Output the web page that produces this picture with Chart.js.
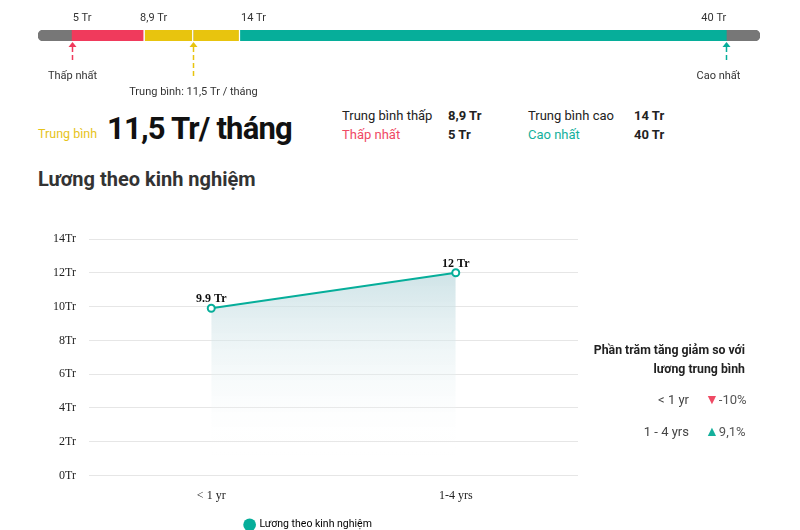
<!DOCTYPE html>
<html>
<head>
<meta charset="utf-8">
<script src="https://cdn.jsdelivr.net/npm/chart.js@4"></script>
<style>
  body { margin: 0; background: #fff; font-family: Roboto, "Noto Sans", sans-serif; color: #222; }
  #wrap { position: relative; width: 800px; height: 530px; overflow: hidden; }
  .abs { position: absolute; white-space: nowrap; }
  #rangeBox { position: absolute; left: 0; top: 0; width: 800px; height: 100px; }
  #mainBox { position: absolute; left: 0; top: 200px; width: 600px; height: 340px; }
  .lbl { font-size: 13px; }
  .val { font-size: 13px; font-weight: 700; }
</style>
</head>
<body>
<div id="wrap">
  <div id="rangeBox"><canvas id="rangeChart"></canvas></div>

  <div class="abs" style="left:38px;top:126px;font-size:12.5px;color:#e6c31a;">Trung bình</div>
  <div class="abs" style="left:107px;top:110px;font-size:31px;font-weight:700;color:#111;letter-spacing:-0.8px;">11,5 Tr/ tháng</div>

  <div class="abs lbl" style="left:342px;top:108px;">Trung bình thấp</div>
  <div class="abs val" style="left:448px;top:108px;">8,9 Tr</div>
  <div class="abs lbl" style="left:342px;top:127px;color:#ef4a64;">Thấp nhất</div>
  <div class="abs val" style="left:448px;top:127px;">5 Tr</div>
  <div class="abs lbl" style="left:528px;top:108px;">Trung bình cao</div>
  <div class="abs val" style="left:634px;top:108px;">14 Tr</div>
  <div class="abs lbl" style="left:528px;top:127px;color:#14b09c;">Cao nhất</div>
  <div class="abs val" style="left:634px;top:127px;">40 Tr</div>

  <div class="abs" style="left:38px;top:167px;font-size:20px;font-weight:700;color:#333;">Lương theo kinh nghiệm</div>

  <div id="mainBox"><canvas id="mainChart"></canvas></div>

  <div class="abs" style="right:55px;top:341px;font-size:12.3px;font-weight:700;text-align:right;line-height:19px;">Phần trăm tăng giảm so với<br>lương trung bình</div>
  <div class="abs" style="right:111px;top:392px;font-size:13px;color:#444;">&lt; 1 yr</div>
  <div class="abs" style="left:705px;top:391px;font-size:13px;color:#555;"><span style="color:#ef4a64;font-size:14px;">&#9660;</span>-10%</div>
  <div class="abs" style="right:111px;top:424px;font-size:13px;color:#444;">1 - 4 yrs</div>
  <div class="abs" style="left:705px;top:423px;font-size:13px;color:#555;"><span style="color:#14b09c;font-size:14px;">&#9650;</span>9,1%</div>
</div>

<script>
// thang luong (trieu dong / thang)
const rangeMin = 3.2;
const rangeMax = 41.8;
const lowest = 5;
const avgLow = 8.9;
const average = 11.5;
const avgHigh = 14;
const highest = 40;
const stopValues = [5, 8.9, 14, 40];
const stopLabels = ['5 Tr', '8,9 Tr', '14 Tr', '40 Tr'];

// luong theo kinh nghiem
const categories = ['< 1 yr', '1-4 yrs'];
const salaries = [9.9, 12];
const salaryLabels = ['9.9 Tr', '12 Tr'];
const yTickValues = [0, 2, 4, 6, 8, 10, 12, 14];

const RED = '#f03a5c';
const YELLOW = '#e8c40e';
const TEAL = '#06ae9a';
const GRAY = '#777777';

// ve nhan gia tri va mui ten tren thanh
const rangeMarks = {
    id: 'rangeMarks',
    afterDatasetsDraw(chart) {
        const ctx = chart.ctx;
        const x = chart.scales.x;
        const top = chart.chartArea.top, bottom = chart.chartArea.bottom;
        ctx.save();
        ctx.font = '11px Roboto, sans-serif';
        ctx.fillStyle = '#333';
        ctx.textBaseline = 'middle';
        const aligns = ['left', 'center', 'left', 'right'];
        stopValues.forEach((v, i) => {
            let px = x.getPixelForValue(v);
            if (aligns[i] === 'center') px += 9;
            ctx.textAlign = aligns[i];
            ctx.fillText(stopLabels[i], px + (aligns[i] === 'left' ? 1 : 0), top - 12);
        });
        const marks = [
            { v: lowest, color: RED, len: 22, text: 'Thấp nhất', dx: 0 },
            { v: average, color: YELLOW, len: 38, text: 'Trung bình: 11,5 Tr / tháng', dx: 0 },
            { v: highest, color: TEAL, len: 22, text: 'Cao nhất', dx: -8 }
        ];
        marks.forEach(m => {
            const px = Math.round(x.getPixelForValue(m.v)) + 0.5;
            ctx.strokeStyle = m.color;
            ctx.fillStyle = m.color;
            ctx.lineWidth = 1.5;
            ctx.beginPath();
            ctx.moveTo(px, bottom + 1);
            ctx.lineTo(px - 4, bottom + 6);
            ctx.lineTo(px + 4, bottom + 6);
            ctx.closePath();
            ctx.fill();
            ctx.setLineDash([5, 3]);
            ctx.beginPath();
            ctx.moveTo(px, bottom + 6);
            ctx.lineTo(px, bottom + m.len);
            ctx.stroke();
            ctx.setLineDash([]);
            ctx.fillStyle = '#333';
            ctx.textAlign = 'center';
            ctx.fillText(m.text, px + m.dx, bottom + m.len + 13);
        });
        ctx.restore();
    }
};

new Chart(document.getElementById('rangeChart'), {
    type: 'bar',
    data: {
        labels: ['range'],
        datasets: [
            { data: [[lowest, avgLow]], backgroundColor: RED, borderColor: '#fff', borderWidth: { right: 1.5 }, borderSkipped: false },
            { data: [[avgLow, average]], backgroundColor: YELLOW, borderColor: '#fff', borderWidth: { right: 1.5 }, borderSkipped: false },
            { data: [[average, avgHigh]], backgroundColor: YELLOW, borderColor: '#fff', borderWidth: { right: 1.5 }, borderSkipped: false },
            { data: [[avgHigh, highest]], backgroundColor: TEAL, borderWidth: 0 },
            { data: [[rangeMin, rangeMax]], backgroundColor: GRAY, borderRadius: 6, borderSkipped: false, borderWidth: 0 }
        ]
    },
    options: {
        indexAxis: 'y',
        responsive: true,
        maintainAspectRatio: false,
        animation: false,
        datasets: { bar: { grouped: false, barPercentage: 1, categoryPercentage: 1 } },
        layout: { padding: { left: 38, right: 40, top: 30, bottom: 59 } },
        scales: {
            x: { type: 'linear', min: rangeMin, max: rangeMax, display: false },
            y: { display: false }
        },
        plugins: { legend: { display: false }, tooltip: { enabled: false } }
    },
    plugins: [rangeMarks]
});

// nhan gia tri tren diem
const pointLabels = {
    id: 'pointLabels',
    afterDatasetsDraw(chart) {
        const ctx = chart.ctx;
        const meta = chart.getDatasetMeta(0);
        ctx.save();
        ctx.font = 'bold 12px "Liberation Serif", serif';
        ctx.fillStyle = '#111';
        ctx.textAlign = 'center';
        ctx.textBaseline = 'bottom';
        meta.data.forEach((pt, i) => {
            ctx.fillText(salaryLabels[i], pt.x, pt.y - 3);
        });
        ctx.restore();
    }
};

new Chart(document.getElementById('mainChart'), {
    type: 'line',
    data: {
        labels: categories,
        datasets: [{
            label: 'Lương theo kinh nghiệm',
            data: salaries,
            borderColor: TEAL,
            borderWidth: 2,
            pointRadius: 3.5,
            pointBorderWidth: 2,
            pointBackgroundColor: '#fff',
            pointBorderColor: TEAL,
            fill: 'origin',
            backgroundColor: (c) => {
                const area = c.chart.chartArea;
                if (!area) return 'rgba(200,222,226,0.8)';
                const yPx = c.chart.scales.y.getPixelForValue(1.2);
                const g = c.chart.ctx.createLinearGradient(0, area.top, 0, yPx);
                g.addColorStop(0, 'rgba(180,212,218,0.9)');
                g.addColorStop(1, 'rgba(255,255,255,0)');
                return g;
            },
            tension: 0
        }]
    },
    options: {
        responsive: true,
        maintainAspectRatio: false,
        animation: false,
        layout: { padding: { left: 39, right: 22, top: 39, bottom: 0 } },
        scales: {
            x: {
                offset: true,
                grid: { display: false },
                border: { display: false },
                ticks: { color: '#222', padding: 5, font: { family: '"Liberation Serif", serif', size: 12 } },
                afterFit: s => { s.height = 33; }
            },
            y: {
                min: 0,
                max: 14,
                afterBuildTicks: s => { s.ticks = yTickValues.map(v => ({ value: v })); },
                grid: { color: '#e6e6e6', drawTicks: false },
                border: { display: false },
                ticks: {
                    color: '#222',
                    padding: 13,
                    font: { family: '"Liberation Serif", serif', size: 12 },
                    callback: v => v + 'Tr'
                },
                afterFit: s => { s.width = 50; }
            }
        },
        plugins: {
            legend: {
                position: 'bottom',
                labels: {
                    usePointStyle: true,
                    pointStyle: 'circle',
                    boxWidth: 9,
                    boxHeight: 9,
                    padding: 11,
                    color: '#444',
                    font: { family: 'Roboto, sans-serif', size: 10.5 },
                    generateLabels: chart => [{
                        text: chart.data.datasets[0].label,
                        fillStyle: TEAL,
                        strokeStyle: TEAL,
                        lineWidth: 0,
                        pointStyle: 'circle',
                        datasetIndex: 0
                    }]
                }
            },
            tooltip: { enabled: false }
        }
    },
    plugins: [pointLabels]
});
</script>
</body>
</html>
